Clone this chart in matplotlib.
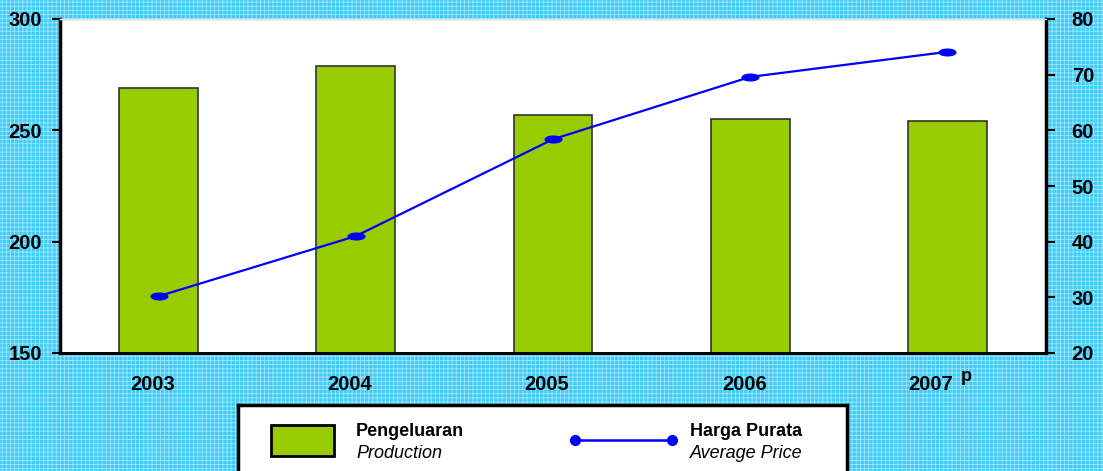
import matplotlib
matplotlib.use("Agg")
import matplotlib.pyplot as plt
from matplotlib.patches import Rectangle
from matplotlib.lines import Line2D
from matplotlib.path import Path
from matplotlib.transforms import Affine2D, ScaledTranslation
import numpy as np

# data
years = ["2003", "2004", "2005", "2006", "2007"]
production = [269, 279, 257, 255, 254]
avg_price = [30.2, 41.0, 58.4, 69.6, 74.1]

plt.rcParams["font.family"] = ["Liberation Sans", "DejaVu Sans"]
plt.rcParams["hatch.linewidth"] = 0.6

bg = "#3fcdf8"
fig = plt.figure(figsize=(11.03, 4.71), dpi=100, facecolor=bg)
# background texture
fig.patches.append(Rectangle((0, 0), 1, 1, transform=fig.transFigure, facecolor=bg,
                             edgecolor="#9fe6fb", hatch="++++", linewidth=0, zorder=-10))

W, H = 1103, 471
l, r, t, b = 60, 1046, 19, 353
ax = fig.add_axes([l / W, 1 - b / H, (r - l) / W, (b - t) / H])
ax.set_facecolor("white")

x = np.arange(len(years))
ax.bar(x, production, width=0.4, color="#99cc00", edgecolor="#333333", linewidth=1.2, zorder=2)
ax.set_xlim(-0.5, len(years) - 0.5)
ax.set_ylim(150, 300)
ax.set_yticks([150, 200, 250, 300])
ax.set_xticks(x)
ax.set_xticklabels(years)

# flattened ellipse marker
ell = Path.unit_circle().transformed(Affine2D().scale(1.0, 0.4))

ax2 = ax.twinx()
ax2.plot(x, avg_price, color="#0000ff", linewidth=1.6, marker=ell, markersize=12,
         markerfacecolor="#0000ff", markeredgecolor="#0000ff", zorder=3)
ax2.set_ylim(20, 80)
ax2.set_yticks([20, 30, 40, 50, 60, 70, 80])

for a in (ax, ax2):
    a.spines["top"].set_color("#dddddd")
    a.spines["top"].set_linewidth(1)
    a.spines["left"].set_linewidth(2.5)
    a.spines["right"].set_linewidth(2.5)
    a.spines["bottom"].set_linewidth(2)
    a.tick_params(labelsize=14.5, width=1.5, length=5.8, colors="black")
    for lab in a.get_yticklabels() + a.get_xticklabels():
        lab.set_fontweight("bold")
ax.spines["right"].set_visible(False)
ax2.spines["left"].set_visible(False)
ax.tick_params(axis="x", length=0, pad=16)
ax.tick_params(axis="y", pad=7)
ax2.tick_params(axis="y", length=6.5, pad=12)

# nudge x labels like the original
for i, lab in enumerate(ax.get_xticklabels()):
    dx = -0.17 if i == len(years) - 1 else -0.06
    lab.set_transform(lab.get_transform() + ScaledTranslation(dx, 0, fig.dpi_scale_trans))

# superscript p on 2007
fig.text(961 / W, 1 - 381 / H, "p", fontsize=13, fontweight="bold", ha="left", va="baseline")

# legend box
legax = fig.add_axes([238 / W, 0, (847 - 238) / W, (471 - 405) / H])
legax.set_xlim(238, 847)
legax.set_ylim(471, 405)
legax.set_xticks([])
legax.set_yticks([])
legax.set_facecolor("white")
for s in legax.spines.values():
    s.set_linewidth(2.5)
legax.spines["bottom"].set_visible(False)
legax.add_patch(Rectangle((271, 425), 63, 31, facecolor="#99cc00", edgecolor="black", linewidth=2))
legax.text(356, 431, "Pengeluaran", fontsize=13, fontweight="bold", va="center", ha="left")
legax.text(356, 453, "Production", fontsize=13, style="italic", va="center", ha="left")
legax.add_line(Line2D([575, 672], [440, 440], color="#0000ff", linewidth=1.8,
                      marker="o", markersize=7))
legax.text(690, 431, "Harga Purata", fontsize=13, fontweight="bold", va="center", ha="left")
legax.text(690, 453, "Average Price", fontsize=13, style="italic", va="center", ha="left")

fig.savefig("out.png", dpi=100, facecolor=bg)
